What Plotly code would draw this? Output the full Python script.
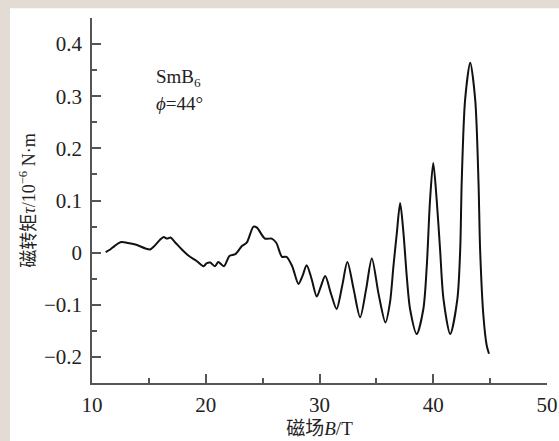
import plotly.graph_objects as go

# Field B (T) and torque tau (1e-6 N·m)
field_B = [11.2, 11.6, 12.0, 12.5, 13.3, 13.9, 14.7, 15.1, 15.5, 16.0, 16.3, 16.6,
           16.9, 17.3, 17.9, 18.5, 19.2, 19.8, 20.1, 20.4, 20.8, 21.1, 21.6, 22.1,
           22.6, 23.2, 23.6, 24.2, 24.5, 25.2, 25.8, 26.2, 26.7, 27.1, 27.6, 28.15,
           28.5, 28.87, 29.3, 29.76, 30.1, 30.5, 31.0, 31.5, 32.0, 32.45, 33.0, 33.57,
           34.1, 34.6, 35.2, 35.8, 36.2, 36.5, 36.8, 37.09, 37.38, 37.67, 37.96, 38.55,
           39.13, 39.43, 39.72, 40.0, 40.3, 40.6, 40.9, 41.49, 42.12, 42.37, 42.5,
           42.8, 43.25, 43.69, 43.98, 44.12, 44.41, 44.7, 44.9]
torque = [0.001, 0.006, 0.013, 0.020, 0.018, 0.015, 0.008, 0.006, 0.013, 0.025, 0.030, 0.027,
          0.029, 0.020, 0.006, -0.006, -0.016, -0.026, -0.020, -0.019, -0.026, -0.018, -0.026, -0.006,
          -0.003, 0.013, 0.019, 0.050, 0.048, 0.027, 0.027, 0.019, -0.008, -0.008, -0.026, -0.060,
          -0.045, -0.024, -0.050, -0.084, -0.066, -0.045, -0.078, -0.108, -0.063, -0.018, -0.070, -0.124,
          -0.070, -0.011, -0.080, -0.134, -0.095, -0.026, 0.038, 0.095, 0.038, -0.045, -0.108, -0.156,
          -0.108, -0.026, 0.102, 0.172, 0.102, 0.006, -0.089, -0.156, -0.089, 0.006, 0.134,
          0.293, 0.364, 0.293, 0.134, 0.006, -0.121, -0.178, -0.194]

x_ticks = [10, 20, 30, 40, 50]
y_ticks = [-0.2, -0.1, 0, 0.1, 0.2, 0.3, 0.4]
y_tick_labels = ["\u22120.2", "\u22120.1", "0", "0.1", "0.2", "0.3", "0.4"]

FONT = "Liberation Serif, Times New Roman, Noto Sans CJK SC, serif"
TXT = "#222222"
BEIGE = "#e3dcd5"

fig = go.Figure()
fig.add_trace(go.Scatter(x=field_B, y=torque, mode="lines",
                         line=dict(color="#111111", width=2, shape="spline", smoothing=0.8),
                         hoverinfo="skip", showlegend=False))

# white panel on a beige page (panel starts 10 px from left, 8 px from top)
fig.add_shape(type="rect", xref="paper", yref="paper",
              x0=-0.1802, x1=1.2, y0=-0.4, y1=1.0266,
              fillcolor="white", line=dict(width=0), layer="below")

axis_common = dict(showline=True, linecolor="#555555", linewidth=1.5,
                   ticks="inside", ticklen=9, tickwidth=1.5, tickcolor="#555555",
                   showgrid=False, zeroline=False, mirror=False, automargin=False,
                   tickfont=dict(family=FONT, size=21, color=TXT))

fig.update_xaxes(range=[10, 50], tickvals=x_ticks, ticklabelstandoff=2,
                 minor=dict(ticks="inside", ticklen=5, tickwidth=1.5, tickcolor="#555555",
                            dtick=5, tick0=0, showgrid=False),
                 title=dict(text="磁场<i>B</i>/T", font=dict(family=FONT, size=19, color=TXT),
                            standoff=6),
                 **axis_common)
fig.update_yaxes(range=[-0.25, 0.45], tickvals=y_ticks, ticktext=y_tick_labels,
                 ticklabelstandoff=4,
                 minor=dict(ticks="inside", ticklen=5, tickwidth=1.5, tickcolor="#555555",
                            dtick=0.05, tick0=0, showgrid=False),
                 title=dict(text="磁转矩<i>τ</i>/10<sup>\u22126</sup> N·m",
                            font=dict(family=FONT, size=18, color=TXT), standoff=4),
                 **axis_common)

fig.add_annotation(x=0.137, y=0.835, xref="paper", yref="paper", xanchor="left", yanchor="middle",
                   text="SmB<sub>6</sub>", showarrow=False,
                   font=dict(family=FONT, size=19, color=TXT))
fig.add_annotation(x=0.137, y=0.765, xref="paper", yref="paper", xanchor="left", yanchor="middle",
                   text="<i>ϕ</i>=44°", showarrow=False,
                   font=dict(family=FONT, size=19, color=TXT))

fig.update_layout(width=559, height=441, autosize=False,
                  margin=dict(l=92, r=12, t=18, b=58, autoexpand=False),
                  paper_bgcolor=BEIGE, plot_bgcolor="rgba(0,0,0,0)")

fig.write_html("out.html", config={"displayModeBar": False},
               post_script="document.body.style.margin='0px';document.body.style.overflow='hidden';"
                           "document.documentElement.style.background='#ffffff';")
